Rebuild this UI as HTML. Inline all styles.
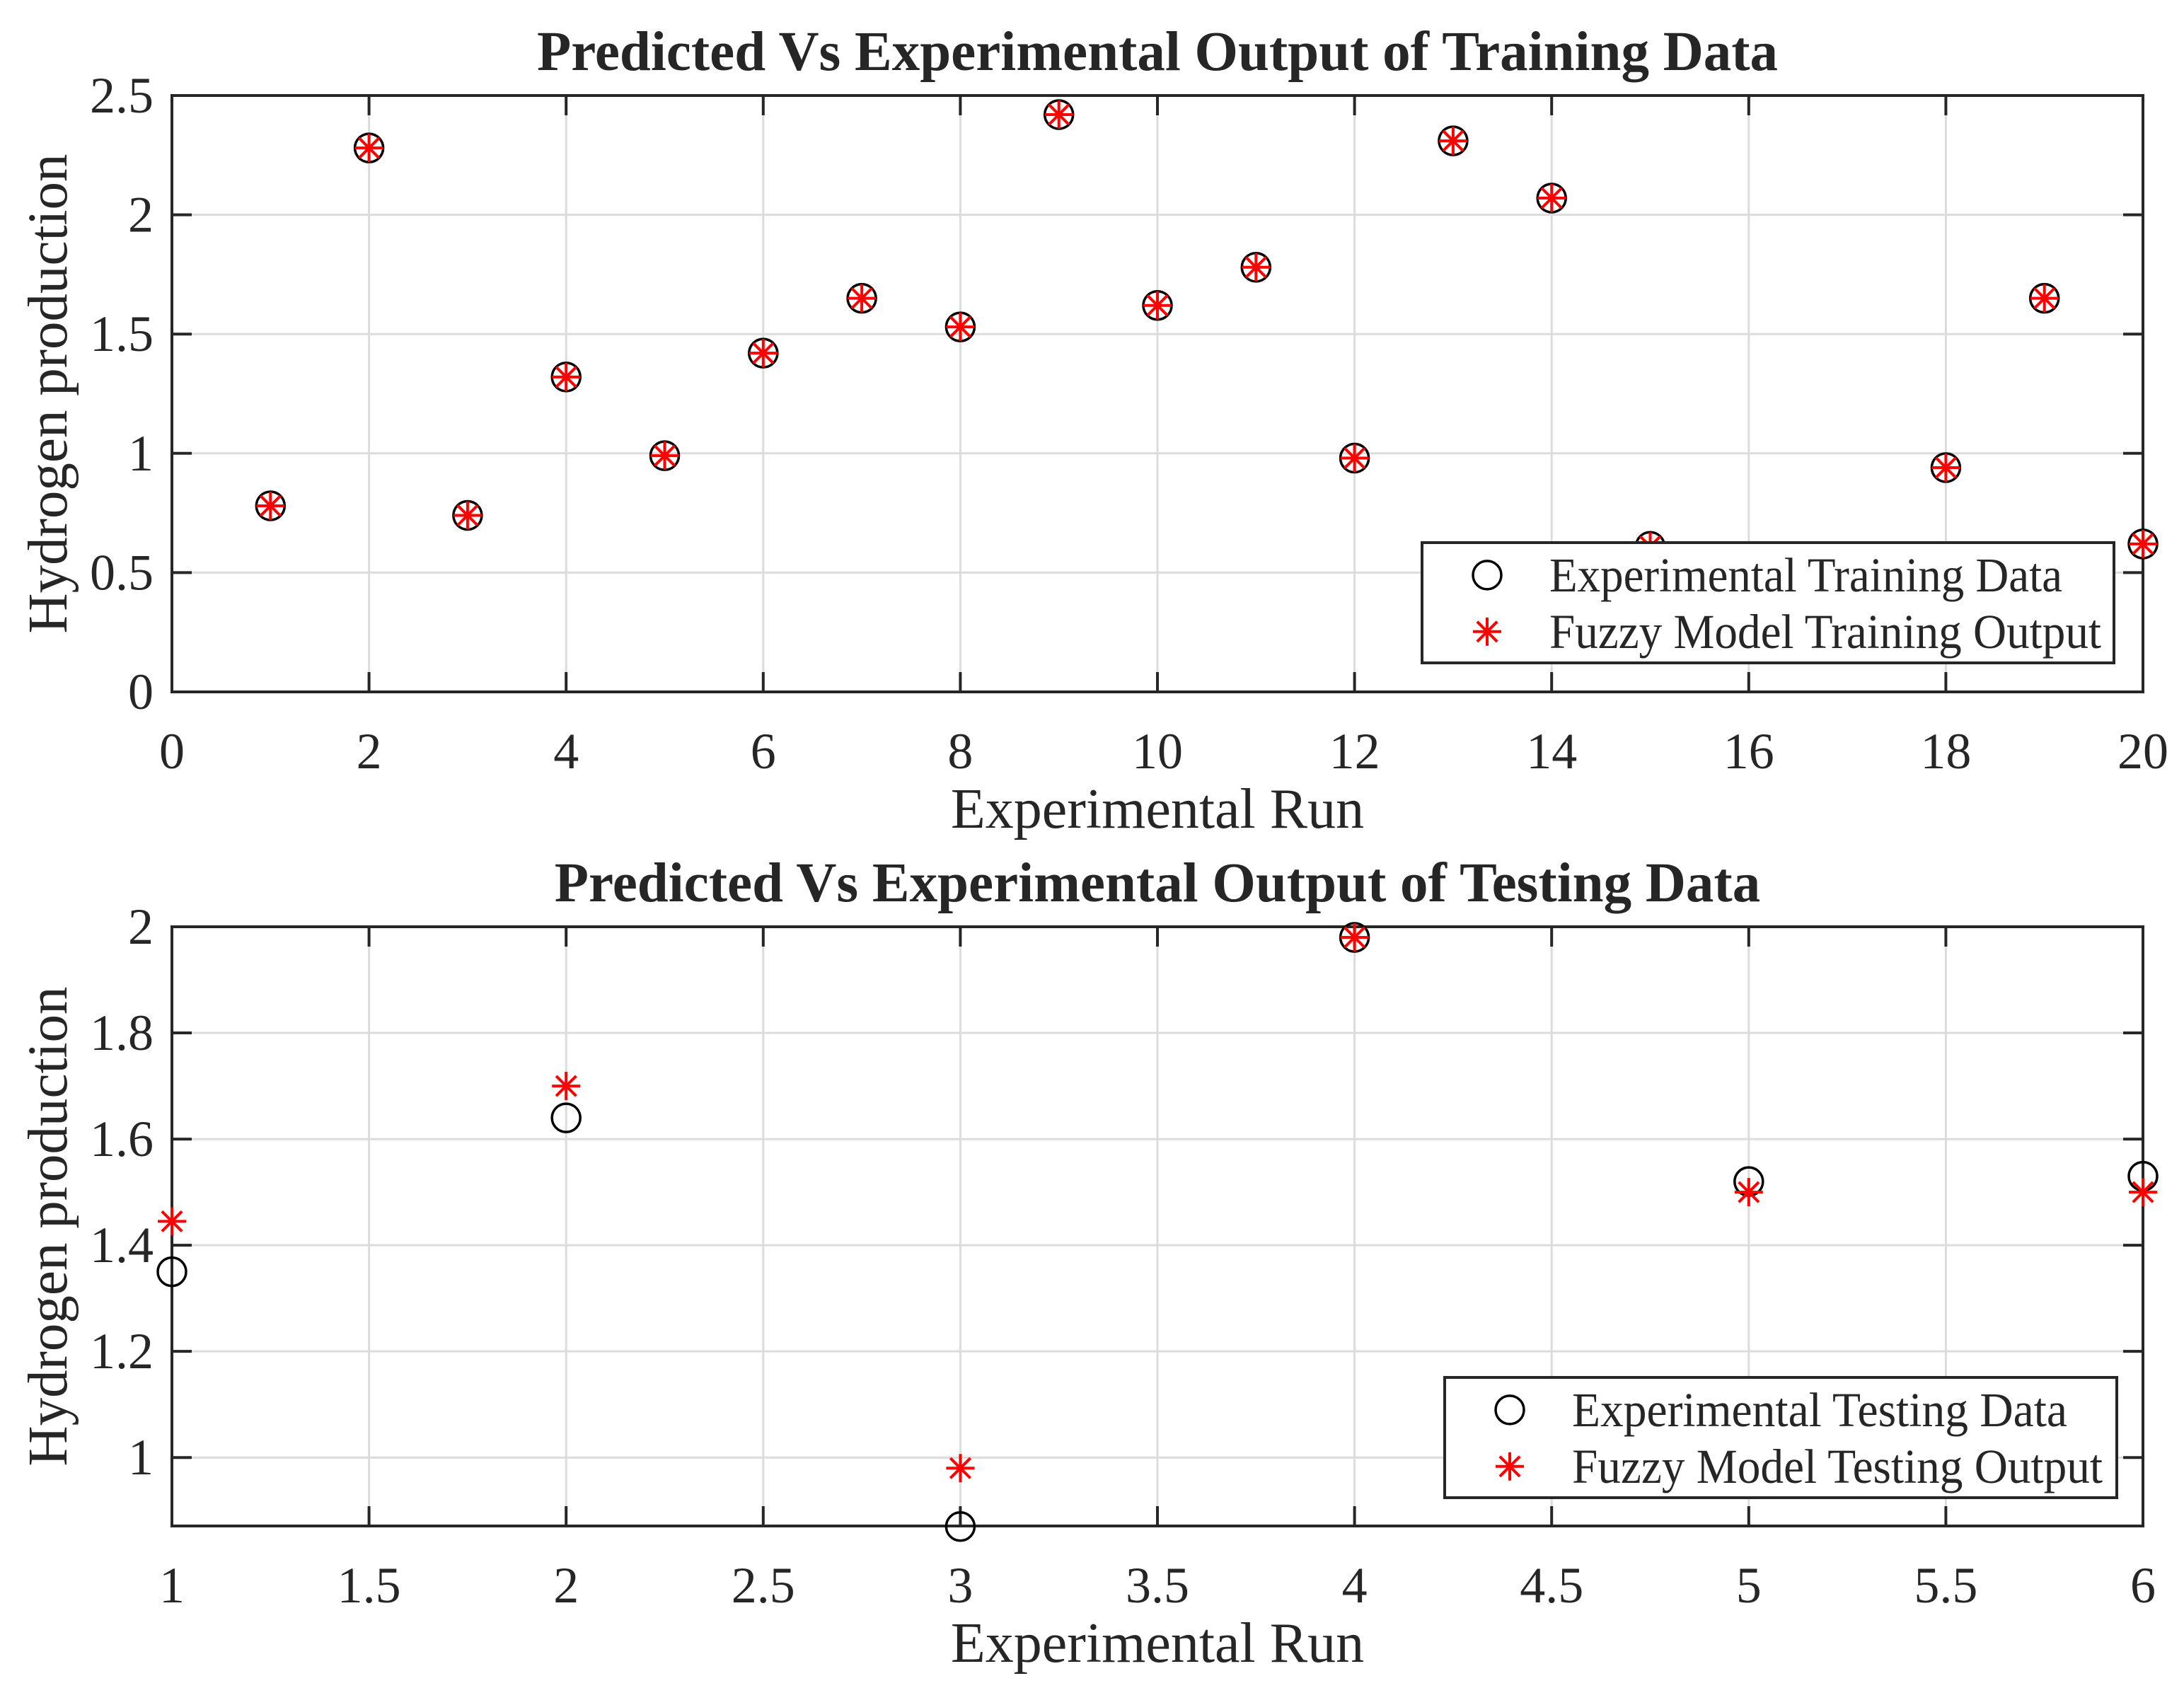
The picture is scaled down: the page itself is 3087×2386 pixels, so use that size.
<!DOCTYPE html>
<html><head><meta charset="utf-8">
<style>
html,body{margin:0;padding:0;background:#fff;}
svg{display:block;}
text{font-family:"Liberation Serif",serif;fill:#262626;}
</style></head>
<body>
<svg id="chart" width="3087" height="2386" viewBox="0 0 3087 2386" xmlns="http://www.w3.org/2000/svg"></svg>
<script>
// Training data
const trainRuns = [1,2,3,4,5,6,7,8,9,10,11,12,13,14,15,16,17,18,19,20];
const trainExp = [0.78,2.28,0.74,1.32,0.99,1.42,1.65,1.53,2.42,1.62,1.78,0.98,2.31,2.07,0.61,0.40,0.40,0.94,1.65,0.62];
const trainFuzzy = [0.78,2.28,0.74,1.32,0.99,1.42,1.65,1.53,2.42,1.62,1.78,0.98,2.31,2.07,0.61,0.40,0.40,0.94,1.65,0.62];
const trainXTicks = [0,2,4,6,8,10,12,14,16,18,20];
const trainYTicks = [0,0.5,1,1.5,2,2.5];
// Testing data
const testRuns = [1,2,3,4,5,6];
const testExp = [1.35,1.64,0.87,1.98,1.52,1.53];
const testFuzzy = [1.445,1.70,0.98,1.98,1.50,1.50];
const testXTicks = [1,1.5,2,2.5,3,3.5,4,4.5,5,5.5,6];
const testYTicks = [1,1.2,1.4,1.6,1.8,2];

const NS = "http://www.w3.org/2000/svg";
const svg = document.getElementById('chart');
function mk(tag, attrs, parent){
  const e = document.createElementNS(NS, tag);
  for (const k in attrs) e.setAttribute(k, attrs[k]);
  (parent||svg).appendChild(e);
  return e;
}
function fmt(v){ return String(v); }

function drawPanel(cfg){
  const g = mk('g', {});
  
  
  const L=cfg.L, R=cfg.R, T=cfg.T, B=cfg.B;
  const sx = v => L + (v - cfg.xmin)/(cfg.xmax-cfg.xmin)*(R-L);
  const sy = v => B - (v - cfg.ymin)/(cfg.ymax-cfg.ymin)*(B-T);
  const grid = mk('g', {stroke:'#dcdcdc','stroke-width':3}, g);
  
  
  cfg.xticks.forEach(t => { mk('line',{x1:sx(t),x2:sx(t),y1:T,y2:B},grid); });
  cfg.yticks.forEach(t => { mk('line',{x1:L,x2:R,y1:sy(t),y2:sy(t)},grid); });
  const ticks = mk('g', {stroke:'#262626','stroke-width':4}, g);
  
  
  const tl = 28;
  cfg.xticks.forEach(t => {
    mk('line',{x1:sx(t),x2:sx(t),y1:B,y2:B-tl},ticks);
    mk('line',{x1:sx(t),x2:sx(t),y1:T,y2:T+tl},ticks);
    const tx = mk('text',{x:sx(t),y:B+108,'font-size':72,'text-anchor':'middle'},g);
    
    
    tx.textContent = fmt(t);
  });
  cfg.yticks.forEach(t => {
    mk('line',{x1:L,x2:L+tl,y1:sy(t),y2:sy(t)},ticks);
    mk('line',{x1:R,x2:R-tl,y1:sy(t),y2:sy(t)},ticks);
    const ty = mk('text',{x:L-26,y:sy(t)+24,'font-size':72,'text-anchor':'end'},g);
    
    
    ty.textContent = fmt(t);
  });
  const box = mk('rect',{x:L,y:T,width:R-L,height:B-T,fill:'none',stroke:'#262626','stroke-width':4},g);
  
  
  const r = 20;
  cfg.xs.forEach((x,i) => {
    const c = mk('circle',{cx:sx(x),cy:sy(cfg.exp[i]),r:r,fill:'none',stroke:'#000','stroke-width':3.5},g);
    
    
  });
  cfg.xs.forEach((x,i) => {
    const a = mk('g',{stroke:'#ff0000','stroke-width':4},g);
    
    
    const cx = sx(x), cy = sy(cfg.fuzzy[i]);
    [0,45,90,135].forEach(ang => {
      const rad = ang*Math.PI/180, dx = Math.cos(rad)*r, dy = Math.sin(rad)*r;
      mk('line',{x1:cx-dx,y1:cy-dy,x2:cx+dx,y2:cy+dy},a);
    });
  });
  const ti = mk('text',{x:(L+R)/2,y:T-36,'font-size':79,'font-weight':'bold','text-anchor':'middle',fill:'#000'},g);
  
  
  ti.textContent = cfg.title;
  const xt = mk('text',{x:(L+R)/2,y:B+192,'font-size':80,'text-anchor':'middle'},g);
  
  
  xt.textContent = 'Experimental Run';
  const yc = (T+B)/2;
  const yt = mk('text',{x:0,y:0,'font-size':79,'text-anchor':'middle',transform:`translate(94,${yc}) rotate(-90)`},g);
  
  
  yt.textContent = 'Hydrogen production';
  const lg = mk('g',{},g);
  
  
  const LX=cfg.leg[0], LY=cfg.leg[1], LW=cfg.leg[2], LH=cfg.leg[3];
  mk('rect',{x:LX,y:LY,width:LW,height:LH,fill:'#fff',stroke:'#262626','stroke-width':4},lg);
  const e1 = mk('g',{},lg);
  
  
  mk('circle',{cx:LX+92,cy:LY+LH*0.27,r:20,fill:'none',stroke:'#000','stroke-width':3.5},e1);
  const t1 = mk('text',{x:LX+180,y:LY+LH*0.27+23,'font-size':69,fill:'#000',textLength:cfg.legLen[0],lengthAdjust:'spacingAndGlyphs'},e1);
  t1.textContent = cfg.legText[0];
  const e2 = mk('g',{},lg);
  
  
  const ax=LX+92, ay=LY+LH*0.74;
  const ag = mk('g',{stroke:'#ff0000','stroke-width':4},e2);
  [0,45,90,135].forEach(ang => {
    const rad=ang*Math.PI/180, dx=Math.cos(rad)*20, dy=Math.sin(rad)*20;
    mk('line',{x1:ax-dx,y1:ay-dy,x2:ax+dx,y2:ay+dy},ag);
  });
  const t2 = mk('text',{x:LX+180,y:ay+23,'font-size':69,fill:'#000',textLength:cfg.legLen[1],lengthAdjust:'spacingAndGlyphs'},e2);
  t2.textContent = cfg.legText[1];
}

drawPanel({name:'training-plot',L:243,R:3029,T:135,B:978,xmin:0,xmax:20,ymin:0,ymax:2.5,
  xticks:trainXTicks,yticks:trainYTicks,xs:trainRuns,exp:trainExp,fuzzy:trainFuzzy,
  title:'Predicted Vs Experimental Output of Training Data',
  leg:[2010,767,978,170],legLen:[725,780],legText:['Experimental Training Data','Fuzzy Model Training Output']});
drawPanel({name:'testing-plot',L:243,R:3029,T:1310,B:2157,xmin:1,xmax:6,ymin:0.871,ymax:2,
  xticks:testXTicks,yticks:testYTicks,xs:testRuns,exp:testExp,fuzzy:testFuzzy,
  title:'Predicted Vs Experimental Output of Testing Data',
  leg:[2042,1947,950,170],legLen:[700,750],legText:['Experimental Testing Data','Fuzzy Model Testing Output']});
</script>
</body></html>
